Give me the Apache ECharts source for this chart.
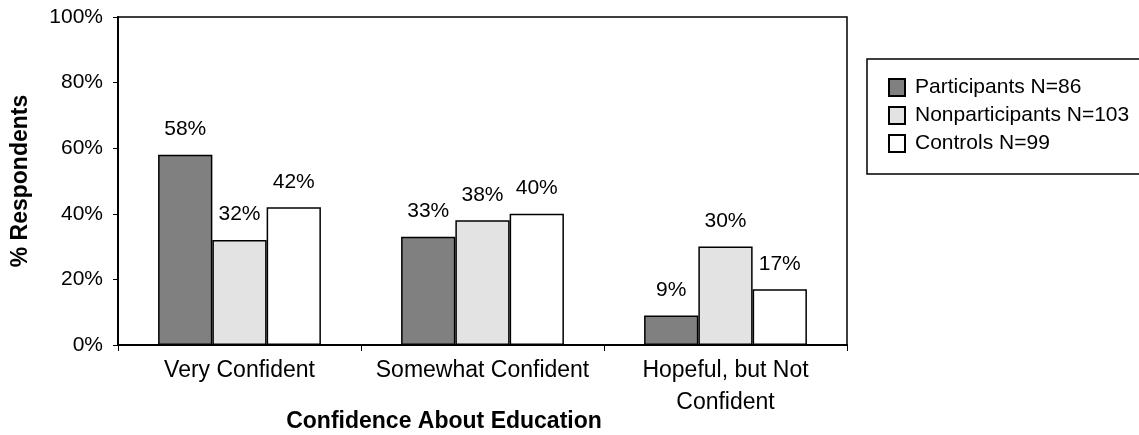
<!DOCTYPE html>
<html>
<head>
<meta charset="utf-8">
<title>Confidence About Education</title>
<script src="https://cdn.jsdelivr.net/npm/echarts@6/dist/echarts.min.js"></script>
<style>
  html, body { margin: 0; padding: 0; background: #fff; }
  #chart { width: 1139px; height: 435px; }
</style>
</head>
<body>
<div id="chart"></div>
<script>
// Survey categories and responses (percent of respondents)
const categories = ['Very Confident', 'Somewhat Confident', 'Hopeful, but Not\nConfident'];
const seriesNames = ['Participants N=86', 'Nonparticipants N=103', 'Controls N=99'];
const participants = [58, 33, 9];
const nonparticipants = [32, 38, 30];
const controls = [42, 40, 17];
const yTicks = [0, 20, 40, 60, 80, 100];

const FONT = '"Liberation Sans", Arial, Helvetica, sans-serif';
const fills = ['#808080', '#e3e3e3', '#ffffff'];
const values = [participants, nonparticipants, controls];

const chart = echarts.init(document.getElementById('chart'), null, { renderer: 'canvas' });

const series = seriesNames.map((name, i) => ({
  name: name,
  type: 'bar',
  data: values[i],
  barGap: '0%',
  barCategoryGap: '33%',
  itemStyle: { color: fills[i], borderColor: '#000', borderWidth: 1.5 },
  label: {
    show: true,
    position: 'top',
    distance: 15,
    formatter: '{c}%',
    color: '#000',
    fontFamily: FONT,
    fontSize: 21
  }
}));

chart.setOption({
  animation: false,
  backgroundColor: '#fff',
  grid: {
    left: 118, top: 17, right: 292, bottom: 90,
    show: true, borderColor: '#000', borderWidth: 1.5, backgroundColor: 'transparent'
  },
  legend: {
    orient: 'vertical',
    left: 883, top: 72,
    itemWidth: 16, itemHeight: 17, itemGap: 7,
    icon: 'rect',
    itemStyle: { borderColor: '#000', borderWidth: 2 },
    textStyle: { fontFamily: FONT, fontSize: 21, color: '#000', padding: [0, 0, 0, 5] },
    data: seriesNames
  },
  xAxis: {
    type: 'category',
    data: categories,
    axisLine: { lineStyle: { color: '#000', width: 2 } },
    axisTick: { show: true, alignWithLabel: false, length: 6, lineStyle: { color: '#000', width: 1 } },
    axisLabel: {
      color: '#000', fontFamily: FONT, fontSize: 23, margin: 10, lineHeight: 32,
      interval: 0
    },
    splitLine: { show: false }
  },
  yAxis: {
    type: 'value',
    min: yTicks[0], max: yTicks[yTicks.length - 1], interval: 20,
    axisLine: { show: true, lineStyle: { color: '#000', width: 2 } },
    axisTick: { show: true, length: 5, lineStyle: { color: '#000', width: 1 } },
    axisLabel: { color: '#000', fontFamily: FONT, fontSize: 21, margin: 15, formatter: '{value}%' },
    splitLine: { show: false }
  },
  graphic: [
    {
      type: 'rect', z: -1,
      shape: { x: 867, y: 59, width: 300, height: 115 },
      style: { fill: '#fff', stroke: '#000', lineWidth: 1.5 }
    },
    {
      type: 'text',
      x: 21, y: 181, rotation: Math.PI / 2,
      style: {
        text: '% Respondents', fill: '#000', font: 'bold 23px ' + FONT,
        textAlign: 'center', textVerticalAlign: 'middle'
      }
    },
    {
      type: 'text',
      x: 444, y: 422,
      style: {
        text: 'Confidence About Education', fill: '#000', font: 'bold 23px ' + FONT,
        textAlign: 'center', textVerticalAlign: 'middle'
      }
    }
  ],
  series: series
});
</script>
</body>
</html>
